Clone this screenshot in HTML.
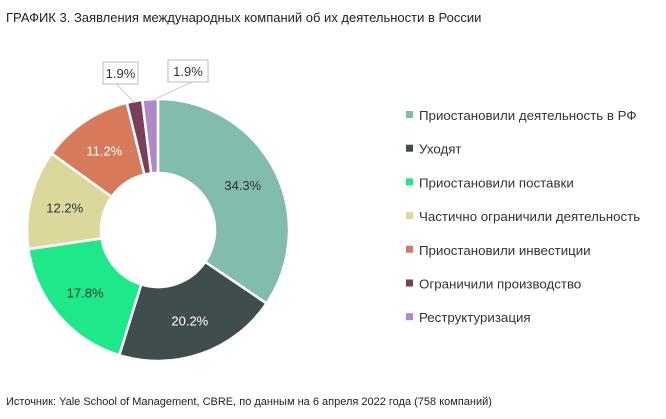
<!DOCTYPE html>
<html><head><meta charset="utf-8">
<style>
body{margin:0;background:#fff;font-family:"Liberation Sans",sans-serif;}
svg text{font-family:"Liberation Sans",sans-serif;}
</style></head>
<body>
<svg width="666" height="414" viewBox="0 0 666 414" id="chart">
<text x="6" y="22" font-size="13" fill="#222">ГРАФИК 3. Заявления международных компаний об их деятельности в России</text>
<text x="6" y="405" font-size="11" fill="#222">Источник: Yale School of Management, CBRE, по данным на 6 апреля 2022 года (758 компаний)</text>
<g id="slices"></g>
<g id="labels"></g>
<g id="legend"></g>
</svg>
<script>
const categories=["Приостановили деятельность в РФ","Уходят","Приостановили поставки","Частично ограничили деятельность","Приостановили инвестиции","Ограничили производство","Реструктуризация"];
const values=[34.3,20.2,17.8,12.2,11.2,1.9,1.9];
const colors=["#82bcad","#3f4d4c","#1de98b","#dcd89c","#d67a5a","#7a3d5a","#b08ac8"];
const NS="http://www.w3.org/2000/svg";
const cx=158,cy=230,R=131,r=57;
const total=values.reduce((a,b)=>a+b,0);
function pt(a,rad){return [cx+rad*Math.sin(a),cy-rad*Math.cos(a)];}
function mk(t,attrs,parent){const e=document.createElementNS(NS,t);for(const k in attrs)e.setAttribute(k,attrs[k]);parent.appendChild(e);return e;}
const gs=document.getElementById('slices'),gl=document.getElementById('labels'),gg=document.getElementById('legend');
let a0=0;
values.forEach((v,i)=>{
 const a1=a0+v/total*2*Math.PI;
 const [x0,y0]=pt(a0,R),[x1,y1]=pt(a1,R),[x2,y2]=pt(a1,r),[x3,y3]=pt(a0,r);
 const lg=(a1-a0)>Math.PI?1:0;
 const p=mk('path',{d:`M${x0},${y0}A${R},${R} 0 ${lg} 1 ${x1},${y1}L${x2},${y2}A${r},${r} 0 ${lg} 0 ${x3},${y3}Z`,fill:colors[i],stroke:'#fff','stroke-width':2.5},gs);
 
 
 const am=(a0+a1)/2;
 const txt=v.toFixed(1)+'%';
 if(v>5){
  const [tx,ty]=pt(am,(R+r)/2+2);
  const t=mk('text',{x:tx,y:ty+5,'font-size':13,'text-anchor':'middle',fill:(i==1||i==4)?'#fff':'#333'},gl);
  t.textContent=txt;
  
  
 }else{
  const [ex,ey]=pt(am,R-2);
  const bx=i==5?103:168,by=i==5?62:60,bw=i==5?35:40;
  const l=mk('line',{x1:ex,y1:ey,x2:bx+bw/2+(i==5?-4:4),y2:by+22,stroke:'#ccc','stroke-width':1},gl);
  
  
  const b=mk('rect',{x:bx,y:by,width:bw,height:22,fill:'#fff',stroke:'#bbb','stroke-width':1},gl);
  
  
  const t=mk('text',{x:bx+bw/2,y:by+16,'font-size':13,'text-anchor':'middle',fill:'#333'},gl);
  t.textContent=txt;
  
  
 }
 a0=a1;
});
categories.forEach((c,i)=>{
 const y=115+i*33.7;
 const s=mk('rect',{x:406,y:y-4,width:7,height:7,fill:colors[i]},gg);
 
 
 const t=mk('text',{x:419,y:y+5,'font-size':13.3,fill:'#333'},gg);
 t.textContent=c;
 
 
});
</script>
</body></html>
